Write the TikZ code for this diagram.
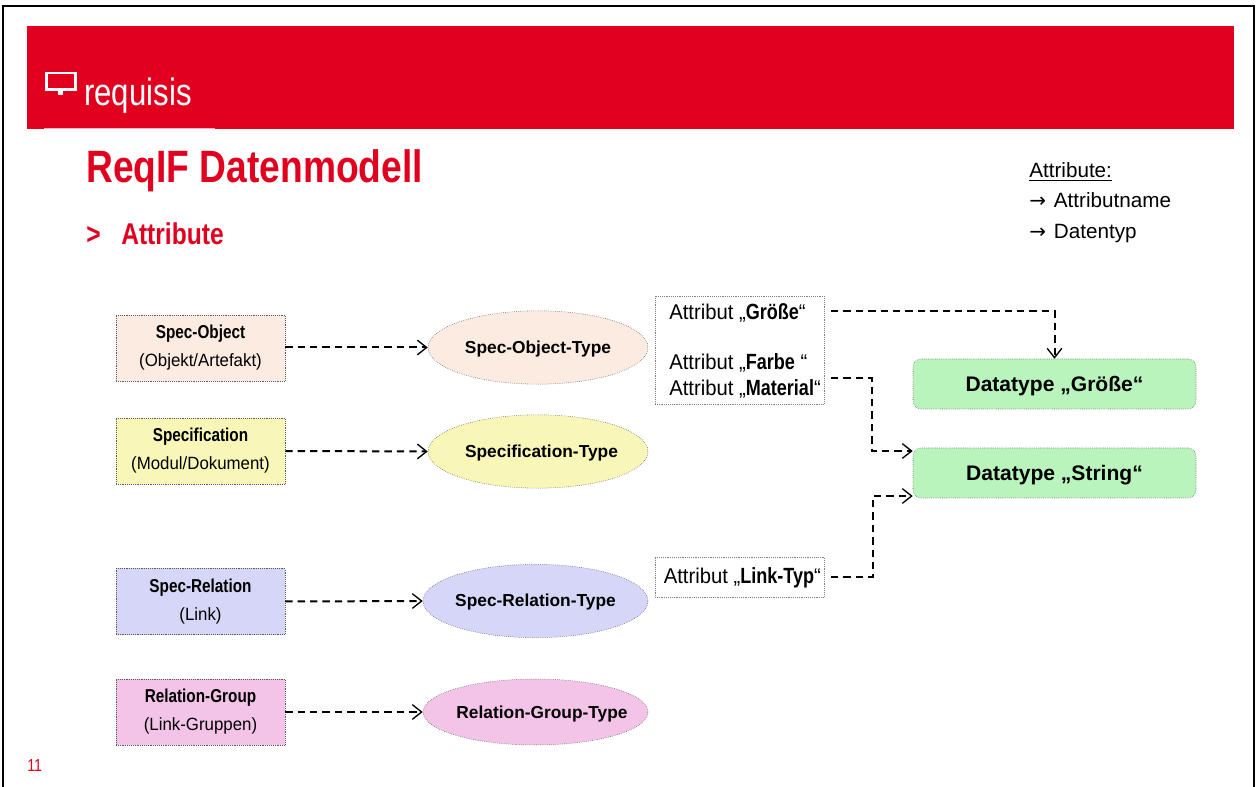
\documentclass[tikz,border=0pt]{standalone}
\usepackage{fontspec}
\usetikzlibrary{arrows.meta,shapes.geometric}
\setmainfont{Liberation Sans}
\newfontfamily\condfont[FakeStretch=0.82]{Liberation Sans}
\newfontfamily\plainfont[FakeStretch=0.95]{Liberation Sans}
\newfontfamily\symfont{DejaVu Sans}
\definecolor{reqred}{HTML}{E2001F}
\definecolor{objfill}{HTML}{FBEBE0}
\definecolor{specfill}{HTML}{F8F7B8}
\definecolor{relfill}{HTML}{D6D6F8}
\definecolor{groupfill}{HTML}{F4C4E8}
\definecolor{dtfill}{HTML}{B8F4BC}
\newcommand{\fsize}[1]{\fontsize{#1}{#1}\selectfont}
\newcommand{\artefactlabel}[2]{{\condfont\bfseries\fsize{14}#1}\\{\plainfont\fsize{13.3}#2}}
\newcommand{\typelabel}[2]{\hspace{#1}\makebox[0pt]{\raisebox{-4.5pt}[0pt][0pt]{#2}}}
\newcommand{\dtlabel}[1]{\raisebox{-5.5pt}[0pt][0pt]{#1}}
\newcommand{\attrlabel}[2]{Attribut „{\condfont\bfseries\fsize{16.5}#1}#2“}
\newcommand{\legendarrow}{\makebox[18.5pt][l]{\symfont\fsize{15}→}}
\begin{document}
\begin{tikzpicture}[
    x=0.75pt,
    y=-0.75pt,
    artefact/.style={
        rectangle,
        minimum width=126.75pt,
        minimum height=49.5pt,
        draw=black!65,
        densely dotted,
        inner sep=0pt,
        font=\fontsize{13}{21}\selectfont,
        align=center
    },
    typeshape/.style={
        ellipse,
        minimum width=165pt,
        minimum height=55pt,
        draw=black!70,
        densely dotted,
        inner sep=0pt,
        font=\fsize{13}\bfseries
    },
    attrbox/.style={
        rectangle,
        minimum width=126.75pt,
        draw=black!50,
        densely dotted,
        fill=white,
        inner sep=0pt
    },
    attrtext/.style={
        anchor=base west,
        inner sep=0pt,
        font=\plainfont\fsize{16}
    },
    datatype/.style={
        rectangle,
        rounded corners=6pt,
        minimum width=212.25pt,
        minimum height=37.5pt,
        draw=black!65,
        densely dotted,
        fill=dtfill,
        font=\fsize{15.8}\bfseries
    },
    legend/.style={
        anchor=base west,
        inner sep=0pt,
        font=\fsize{15.5}
    },
    link/.style={
        draw=black,
        line width=1.5pt,
        dash pattern=on 5.5pt off 3.8pt,
        -{Straight Barb[length=7pt,width=11pt,line width=1pt]}
    }
]
\useasboundingbox (0,0) rectangle (1257,787);

% Slide frame and header
\draw[line width=1.6pt, line cap=round] (3,787) -- (3,6) -- (1254,6) -- (1254,787);
\fill[reqred] (27,26) rectangle (1234,129);
\draw[white!70!reqred, line width=0.6pt] (44,128.5) -- (215,128.5);
\draw[white, line width=1.9pt] (46.5,73) rectangle (75.5,89.5);
\fill[white] (58,89.5) rectangle (63,95.5);
\node[anchor=base west, inner sep=0pt, text=white] (brand) at (84,106)
    {\condfont\fontsize{28.5}{28.5}\selectfont requisis};

% Title
\node[anchor=base west, inner sep=0pt, text=reqred] (title) at (86,183)
    {\condfont\fontsize{34}{34}\selectfont\bfseries ReqIF Datenmodell};
\node[anchor=base west, inner sep=0pt, text=reqred] (bullet) at (86,245)
    {\condfont\fontsize{22.5}{22.5}\selectfont\bfseries >};
\node[anchor=base west, inner sep=0pt, text=reqred] (subtitle) at (121,245)
    {\condfont\fontsize{22.5}{22.5}\selectfont\bfseries Attribute};

% Legend
\node[legend] (legendhead) at (1029,178) {\underline{Attribute:}};
\node[legend] (legendname) at (1029,208) {\legendarrow Attributname};
\node[legend] (legendtype) at (1029,239) {\legendarrow Datentyp};

% Artefacts
\node[artefact, fill=objfill] (specobject) at (200.5,348) {\artefactlabel{Spec-Object}{(Objekt/Artefakt)}};
\node[artefact, fill=specfill] (specification) at (200.5,451) {\artefactlabel{Specification}{(Modul/Dokument)}};
\node[artefact, fill=relfill] (specrelation) at (200.5,601.5) {\artefactlabel{Spec-Relation}{(Link)}};
\node[artefact, fill=groupfill] (relationgroup) at (200.5,712) {\artefactlabel{Relation-Group}{(Link-Gruppen)}};

% Types
\node[typeshape, fill=objfill] (objecttype) at (538,347.5) {\typelabel{0pt}{Spec-Object-Type}};
\node[typeshape, fill=specfill] (spectype) at (538,451.5) {\typelabel{5.25pt}{Specification-Type}};
\node[typeshape, fill=relfill, minimum width=168.75pt] (relationtype) at (535.5,601) {\typelabel{0pt}{Spec-Relation-Type}};
\node[typeshape, fill=groupfill, minimum width=168.75pt, minimum height=49.5pt] (grouptype) at (535.5,712) {\typelabel{9.75pt}{Relation-Group-Type}};

% Attributes
\node[attrbox, minimum height=81pt] (attrobject) at (739.5,350) {};
\node[attrbox, minimum height=30pt] (attrlink) at (739.5,577) {};
\node[attrtext] (attrgroesse) at (669,320) {\attrlabel{Größe}{}};
\node[attrtext] (attrfarbe) at (669,370) {\attrlabel{Farbe}{ }};
\node[attrtext] (attrmaterial) at (669,396) {\attrlabel{Material}{}};
\node[attrtext] (attrlinktyp) at (663.5,584) {\attrlabel{Link-Typ}{}};

% Datatypes
\node[datatype] (dtgroesse) at (1054.5,384) {\dtlabel{Datatype „Größe“}};
\node[datatype] (dtstring) at (1054.5,473) {\dtlabel{Datatype „String“}};

% Connectors
\draw[link] (specobject.east |- 0,347.5) -- (objecttype.west);
\draw[link] (specification.east |- 0,451) -- (spectype.west);
\draw[link] (specrelation.east) -- (relationtype.west);
\draw[link] (relationgroup.east) -- (grouptype.west);

\coordinate (groesseout) at (831,311);
\coordinate (materialout) at (831,378);
\coordinate (linkout) at (831,577);
\coordinate (stringup) at (dtstring.west |- 0,451);
\coordinate (stringdown) at (dtstring.west |- 0,496);
\draw[link] (groesseout) -- (dtgroesse.north |- groesseout) -- (dtgroesse.north);
\draw[link] (materialout) -- (872,378) -- (872,451) -- (stringup);
\draw[link] (linkout) -- (873,577) -- (873,496) -- (stringdown);

% Page number
\node[anchor=base west, inner sep=0pt, text=reqred] (pagenum) at (27,771)
    {\condfont\fsize{13}11};

\end{tikzpicture}
\end{document}
